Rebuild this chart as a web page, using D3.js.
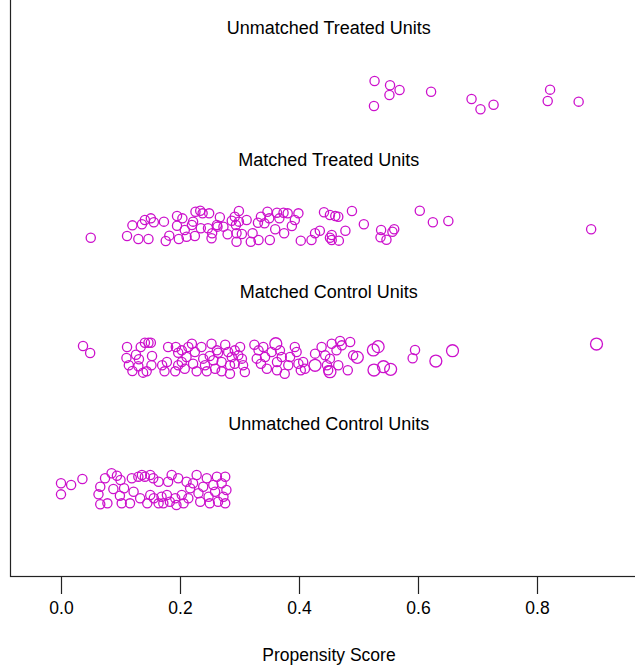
<!DOCTYPE html>
<html>
<head>
<meta charset="utf-8">
<script src="https://cdn.jsdelivr.net/npm/d3@7"></script>
<style>
  body { margin: 0; background: #fff; }
  text { font-family: "Liberation Sans", Arial, sans-serif; fill: #000; }
</style>
</head>
<body>
<div id="chart"></div>
<script>
// group titles and where they sit on the y axis
var titles = ["Unmatched Treated Units", "Matched Treated Units", "Matched Control Units", "Unmatched Control Units"];
var titleY = [4, 3, 2, 1];
var xTicks = [0, 0.2, 0.4, 0.6, 0.8];

// unmatched treated: propensity score, jittered y
var utScore = [0.527, 0.553, 0.552, 0.569, 0.526, 0.622, 0.690, 0.705, 0.727, 0.822, 0.818, 0.870];
var utY = [3.598, 3.566, 3.492, 3.530, 3.409, 3.517, 3.462, 3.384, 3.419, 3.533, 3.447, 3.442];

// matched treated
var mtScore = [0.050, 0.111, 0.120, 0.130, 0.136, 0.141, 0.147, 0.151, 0.156, 0.173, 0.176, 0.182,
  0.195, 0.195, 0.198, 0.204, 0.208, 0.211, 0.220, 0.222, 0.225, 0.226, 0.234, 0.235, 0.238,
  0.247, 0.249, 0.253, 0.254, 0.262, 0.267, 0.263, 0.273, 0.280, 0.287, 0.292, 0.294, 0.295,
  0.299, 0.299, 0.304, 0.295, 0.312, 0.322, 0.319, 0.332, 0.331, 0.336, 0.342, 0.347, 0.350,
  0.351, 0.360, 0.363, 0.367, 0.374, 0.375, 0.381, 0.388, 0.393, 0.399, 0.403, 0.421, 0.427,
  0.435, 0.442, 0.452, 0.455, 0.455, 0.461, 0.467, 0.478, 0.489, 0.509, 0.538, 0.537, 0.547,
  0.557, 0.560, 0.603, 0.625, 0.651, 0.891, 0.466, 0.452];
var mtY = [2.411, 2.424, 2.505, 2.402, 2.513, 2.545, 2.402, 2.558, 2.528, 2.533, 2.386, 2.427,
  2.576, 2.502, 2.402, 2.558, 2.470, 2.419, 2.508, 2.533, 2.424, 2.608, 2.616, 2.483, 2.596,
  2.483, 2.596, 2.407, 2.445, 2.508, 2.566, 2.495, 2.495, 2.437, 2.540, 2.570, 2.508, 2.445,
  2.614, 2.533, 2.439, 2.381, 2.545, 2.445, 2.381, 2.394, 2.525, 2.570, 2.520, 2.608, 2.558,
  2.394, 2.475, 2.601, 2.558, 2.601, 2.445, 2.596, 2.500, 2.545, 2.596, 2.389, 2.394, 2.445,
  2.464, 2.604, 2.583, 2.432, 2.394, 2.576, 2.389, 2.464, 2.614, 2.513, 2.470, 2.414, 2.396,
  2.457, 2.475, 2.616, 2.528, 2.538, 2.475, 2.570, 2.411];

// matched control: score, jittered y, weight (drives circle size)
var mcScore = [0.037, 0.049, 0.111, 0.110, 0.114, 0.120, 0.126, 0.130, 0.134, 0.141, 0.147, 0.151,
  0.131, 0.153, 0.152, 0.144, 0.138, 0.170, 0.174, 0.180, 0.178, 0.193, 0.197, 0.203, 0.192,
  0.197, 0.203, 0.208, 0.211, 0.214, 0.220, 0.222, 0.225, 0.228, 0.236, 0.239, 0.242, 0.245,
  0.253, 0.250, 0.259, 0.262, 0.256, 0.264, 0.276, 0.270, 0.281, 0.287, 0.284, 0.292, 0.292,
  0.298, 0.301, 0.306, 0.309, 0.304, 0.270, 0.284, 0.325, 0.332, 0.329, 0.340, 0.343, 0.336,
  0.346, 0.354, 0.361, 0.363, 0.368, 0.371, 0.363, 0.376, 0.382, 0.385, 0.393, 0.396, 0.399,
  0.407, 0.410, 0.403, 0.427, 0.427, 0.438, 0.444, 0.447, 0.449, 0.455, 0.452, 0.463, 0.466,
  0.472, 0.482, 0.486, 0.491, 0.452, 0.469, 0.498, 0.525, 0.533, 0.526, 0.542, 0.554, 0.595,
  0.591, 0.630, 0.658, 0.900];
var mcY = [1.591, 1.538, 1.583, 1.500, 1.445, 1.402, 1.525, 1.437, 1.583, 1.616, 1.616, 1.616,
  1.490, 1.515, 1.445, 1.399, 1.389, 1.445, 1.399, 1.583, 1.470, 1.583, 1.540, 1.558, 1.399,
  1.445, 1.470, 1.419, 1.508, 1.583, 1.608, 1.457, 1.545, 1.399, 1.583, 1.495, 1.445, 1.399,
  1.608, 1.515, 1.419, 1.558, 1.483, 1.540, 1.601, 1.470, 1.545, 1.508, 1.445, 1.558, 1.457,
  1.520, 1.583, 1.445, 1.394, 1.495, 1.399, 1.381, 1.601, 1.558, 1.495, 1.583, 1.508, 1.457,
  1.419, 1.545, 1.608, 1.470, 1.558, 1.508, 1.407, 1.381, 1.445, 1.508, 1.583, 1.545, 1.457,
  1.470, 1.419, 1.407, 1.533, 1.445, 1.583, 1.520, 1.445, 1.407, 1.608, 1.495, 1.558, 1.445,
  1.596, 1.407, 1.621, 1.520, 1.396, 1.629, 1.505, 1.561, 1.586, 1.409, 1.434, 1.414, 1.561,
  1.498, 1.477, 1.555, 1.606];
var mcWeight = [1, 1, 1, 1, 1, 1, 1, 1, 1, 1, 1, 1,
  1, 1, 1, 1, 1, 1, 1, 1, 1, 1, 1, 1, 1,
  1, 1, 1, 1, 1, 1, 1, 1, 1, 1, 1, 1, 1,
  1, 1, 1, 1, 1, 1, 1, 1, 1, 1, 1, 1, 1,
  1, 1, 1, 1, 1, 1, 1, 1, 1, 1, 1, 1, 1,
  1, 1, 1.3, 1, 1, 1, 1, 1, 1, 1, 1, 1, 1,
  1, 1, 1, 1, 1.3, 1, 1, 1, 1, 1, 1, 1, 1,
  1, 1, 1, 1, 1.3, 1, 1.3, 1.3, 1.3, 1.3, 1.3, 1.3, 1,
  1, 1.3, 1.3, 1.3];

// unmatched control
var ucScore = [0.000, 0.000, 0.017, 0.036, 0.066, 0.063, 0.066, 0.074, 0.078, 0.085, 0.088, 0.094,
  0.100, 0.099, 0.102, 0.106, 0.116, 0.119, 0.122, 0.130, 0.133, 0.136, 0.141, 0.145, 0.150,
  0.150, 0.155, 0.156, 0.164, 0.164, 0.169, 0.172, 0.178, 0.180, 0.183, 0.186, 0.192, 0.194,
  0.197, 0.203, 0.206, 0.211, 0.214, 0.217, 0.222, 0.228, 0.231, 0.234, 0.239, 0.245, 0.248,
  0.250, 0.256, 0.259, 0.262, 0.264, 0.270, 0.273, 0.276, 0.278, 0.276];
var ucY = [0.551, 0.467, 0.538, 0.583, 0.525, 0.467, 0.392, 0.589, 0.399, 0.627, 0.508, 0.608,
  0.576, 0.457, 0.399, 0.513, 0.399, 0.589, 0.487, 0.601, 0.437, 0.614, 0.601, 0.399, 0.614,
  0.462, 0.589, 0.437, 0.563, 0.399, 0.449, 0.399, 0.462, 0.563, 0.411, 0.614, 0.437, 0.386,
  0.589, 0.462, 0.399, 0.563, 0.437, 0.513, 0.551, 0.614, 0.475, 0.411, 0.525, 0.589, 0.449,
  0.399, 0.538, 0.487, 0.601, 0.411, 0.551, 0.449, 0.601, 0.500, 0.399];

var width = 635, height = 669;
var plotLeft = 10, plotBottom = 576;
var pointColor = "#cc11cc";
var baseR = 4.6;

var svg = d3.select("#chart")
  .append("svg")
  .attr("width", width)
  .attr("height", height);

var x = d3.scaleLinear().domain([0, 0.8]).range([61, 537]);
var y = d3.scaleLinear().domain([0, 4]).range([556, 28]);

// box: left and bottom edges are visible, the others fall outside the picture
svg.append("rect")
  .attr("x", plotLeft + 0.5)
  .attr("y", -10)
  .attr("width", 700)
  .attr("height", plotBottom + 10 + 0.5)
  .attr("fill", "none")
  .attr("stroke", "#222")
  .attr("stroke-width", 1.2);

// x axis
var xAxis = d3.axisBottom(x)
  .tickValues(xTicks)
  .tickFormat(d3.format(".1f"))
  .tickSize(17)
  .tickPadding(6);

var ax = svg.append("g")
  .attr("transform", "translate(0," + (plotBottom + 1) + ")")
  .call(xAxis);
ax.select(".domain").remove();
ax.selectAll(".tick line").attr("stroke", "#222").attr("stroke-width", 1.2);
ax.selectAll(".tick text")
  .attr("y", 31)
  .attr("dy", "0.35em")
  .style("font-size", "17.5px")
  .style("font-family", "'Liberation Sans', Arial, sans-serif")
  .attr("fill", "#000");

svg.append("text")
  .attr("x", 329)
  .attr("y", 655)
  .attr("text-anchor", "middle")
  .attr("dy", "0.35em")
  .style("font-size", "17.5px")
  .text("Propensity Score");

// group titles, centred on the middle of the score range
svg.selectAll(".groupTitle")
  .data(titles)
  .enter()
  .append("text")
  .attr("class", "groupTitle")
  .attr("x", x(0.45))
  .attr("y", function (d, i) { return y(titleY[i]); })
  .attr("dy", "0.35em")
  .attr("text-anchor", "middle")
  .style("font-size", "18px")
  .text(function (d) { return d; });

function drawGroup(scores, ys, weights, cls) {
  var pts = scores.map(function (s, i) {
    return { s: s, y: ys[i], w: weights ? weights[i] : 1 };
  });
  svg.append("g")
    .attr("class", cls)
    .selectAll("circle")
    .data(pts)
    .enter()
    .append("circle")
    .attr("cx", function (d) { return x(d.s); })
    .attr("cy", function (d) { return y(d.y); })
    .attr("r", function (d) { return baseR * d.w; })
    .attr("fill", "none")
    .attr("stroke", pointColor)
    .attr("stroke-width", 1.3);
}

drawGroup(utScore, utY, null, "unmatchedTreated");
drawGroup(mtScore, mtY, null, "matchedTreated");
drawGroup(mcScore, mcY, mcWeight, "matchedControl");
drawGroup(ucScore, ucY, null, "unmatchedControl");
</script>
</body>
</html>
